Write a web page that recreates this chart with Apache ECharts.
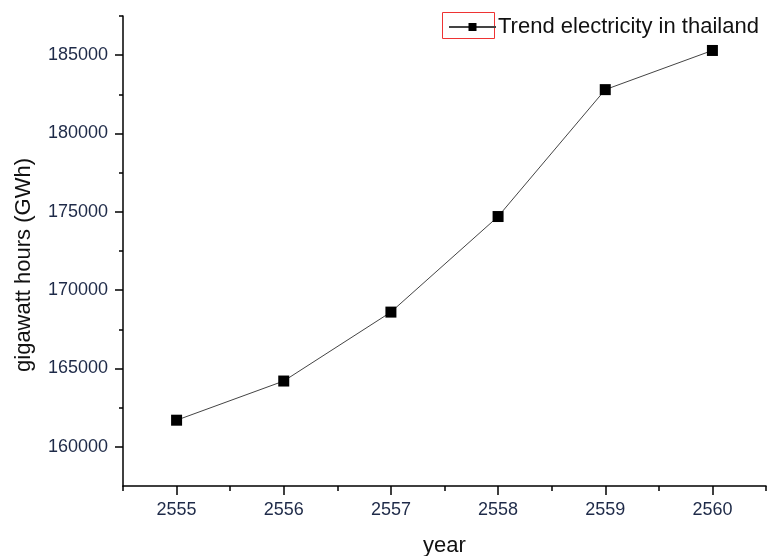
<!DOCTYPE html>
<html><head><meta charset="utf-8">
<script src="https://cdn.jsdelivr.net/npm/echarts@6/dist/echarts.min.js"></script>
<style>html,body{margin:0;padding:0;background:#fff}#c{width:768px;height:556px}</style>
</head><body><div id="c"></div>
<script>
const years = [2555, 2556, 2557, 2558, 2559, 2560];
const values = [161700, 164200, 168600, 174700, 182800, 185300];
const yMajorTicks = [160000, 165000, 170000, 175000, 180000, 185000];
const yMinorTicks = [162500, 167500, 172500, 177500, 182500, 187500];
const xMinorTicks = [2554.5, 2555.5, 2556.5, 2557.5, 2558.5, 2559.5, 2560.5];
const seriesName = 'Trend electricity in thailand';

const chart = echarts.init(document.getElementById('c'));
const font = '"Liberation Sans", Arial, sans-serif';
const labelColor = '#1e2a48';
chart.setOption({
  animation: false,
  backgroundColor: '#fff',
  grid: {left: 123, top: 16, right: 2, bottom: 70, containLabel: false, outerBoundsMode: 'none'},
  legend: {
    left: 443, top: 11, itemWidth: 47, itemHeight: 10, itemGap: 5,
    textStyle: {fontFamily: font, fontSize: 22, color: '#111', padding: [0, 0, 0, -3]},
    data: [seriesName]
  },
  graphic: [{type: 'rect', left: 440, top: 10, shape: {width: 52, height: 26},
    style: {fill: 'none', stroke: '#ee3333', lineWidth: 1}}],
  xAxis: [{
    type: 'value', min: 2554.5, max: 2560.5,
    name: 'year', nameLocation: 'middle', nameGap: 49,
    nameTextStyle: {fontFamily: font, fontSize: 22, color: '#111'},
    axisLine: {show: true, lineStyle: {color: '#000', width: 1.5}},
    axisTick: {show: true, length: 9, customValues: years, lineStyle: {color: '#000', width: 1.5}},
    axisLabel: {customValues: years, margin: 15, fontFamily: font, fontSize: 18, color: labelColor,
      formatter: v => String(v)},
    splitLine: {show: false}
  }, {
    type: 'value', min: 2554.5, max: 2560.5, position: 'bottom',
    axisLine: {show: false},
    axisTick: {show: true, length: 5, customValues: xMinorTicks, lineStyle: {color: '#000', width: 1.5}},
    axisLabel: {show: false}, splitLine: {show: false}
  }],
  yAxis: [{
    type: 'value', min: 157500, max: 187500,
    name: 'gigawatt hours (GWh)', nameLocation: 'middle', nameGap: 88,
    nameTextStyle: {fontFamily: font, fontSize: 22, color: '#111', padding: [0, 28, 0, 0]},
    axisLine: {show: true, lineStyle: {color: '#000', width: 1.5}},
    axisTick: {show: true, length: 8, customValues: yMajorTicks, lineStyle: {color: '#000', width: 1.5}},
    axisLabel: {customValues: yMajorTicks, margin: 15, fontFamily: font, fontSize: 18, color: labelColor,
      formatter: v => String(v)},
    splitLine: {show: false}
  }, {
    type: 'value', min: 157500, max: 187500, position: 'left',
    axisLine: {show: false},
    axisTick: {show: true, length: 4, customValues: yMinorTicks, lineStyle: {color: '#000', width: 1.5}},
    axisLabel: {show: false}, splitLine: {show: false}
  }],
  series: [{
    name: seriesName, type: 'line',
    data: years.map((y, i) => [y, values[i]]),
    symbol: 'rect', symbolSize: 11,
    itemStyle: {color: '#000'},
    lineStyle: {color: '#444', width: 1}
  }]
});
</script></body></html>
